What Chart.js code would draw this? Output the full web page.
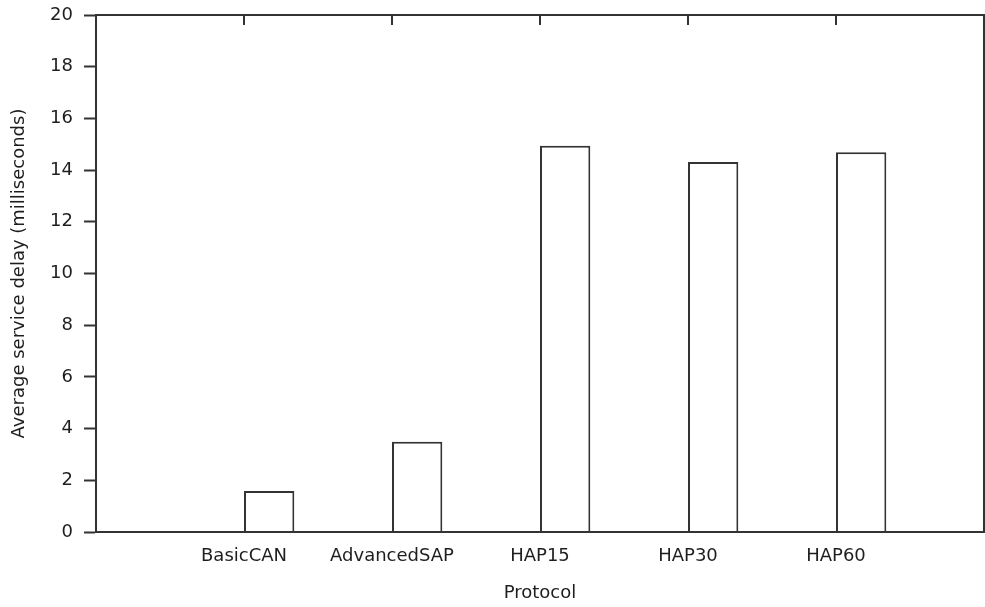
<!DOCTYPE html>
<html>
<head>
<meta charset="utf-8">
<script src="https://cdn.jsdelivr.net/npm/chart.js@4/dist/chart.umd.min.js"></script>
<style>
  html, body { margin: 0; padding: 0; background: #ffffff; }
  #wrap { width: 985px; height: 607px; }
</style>
</head>
<body>
<div id="wrap"><canvas id="chart" width="985" height="607"></canvas></div>
<script>
// Protocols on the x axis and their average service delay (ms)
const protocols = ['BasicCAN', 'AdvancedSAP', 'HAP15', 'HAP30', 'HAP60'];
const avgDelayMs = [1.59, 3.49, 14.94, 14.31, 14.69];

// Axis ranges / tick steps
const xRange = [-1, 5];
const yRange = [0, 20];
const yStep = 2;

const INK = '#1e1e1e';
const LINE = '#333333';
const FONT = { family: '"DejaVu Sans", Verdana, sans-serif', size: 18 };

// Box width as a fraction of the category spacing; boxes start at their tick
const BOX_FRACTION = 0.34;

// Frame around the plot plus inward tick marks along the top edge
const framePlugin = {
  id: 'frame',
  afterDatasetsDraw(chart) {
    const { ctx, chartArea: a, scales: { x } } = chart;
    ctx.save();
    ctx.strokeStyle = LINE;
    ctx.lineWidth = 2;
    ctx.strokeRect(a.left, a.top, a.right - a.left, a.bottom - a.top);
    x.ticks.forEach(t => {
      if (protocols[t.value] === undefined) return;
      const px = Math.round(x.getPixelForValue(t.value));
      ctx.beginPath();
      ctx.moveTo(px, a.top);
      ctx.lineTo(px, a.top + 10);
      ctx.stroke();
    });
    ctx.restore();
  }
};

new Chart(document.getElementById('chart'), {
  type: 'bar',
  data: {
    datasets: [{
      label: 'Average service delay',
      data: avgDelayMs.map((v, i) => ({ x: i + BOX_FRACTION / 2, y: v })),
      backgroundColor: '#ffffff',
      borderColor: LINE,
      borderWidth: 2,
      barPercentage: BOX_FRACTION,
      categoryPercentage: 1
    }]
  },
  options: {
    responsive: false,
    animation: false,
    devicePixelRatio: 1,
    layout: { padding: { top: 15, right: 1, left: 0, bottom: 0 } },
    plugins: { legend: { display: false }, tooltip: { enabled: false } },
    scales: {
      x: {
        type: 'linear',
        min: xRange[0],
        max: xRange[1],
        offset: false,
        grid: { display: true, drawOnChartArea: false, drawTicks: false, offset: false },
        border: { display: true, color: LINE, width: 2 },
        ticks: {
          stepSize: 1,
          autoSkip: false,
          maxRotation: 0,
          padding: 14,
          color: INK,
          font: FONT,
          callback: v => protocols[v] ?? ''
        },
        title: {
          display: true,
          text: 'Protocol',
          color: INK,
          font: FONT,
          padding: { top: 4, bottom: 3 }
        },
        afterFit: s => {
          s.height = 75;
          s.paddingLeft = 0;
          s.paddingRight = 0;
        }
      },
      y: {
        min: yRange[0],
        max: yRange[1],
        grid: { drawOnChartArea: false, drawTicks: true, tickLength: 12, tickColor: LINE, tickWidth: 2 },
        border: { display: true, color: LINE, width: 2 },
        ticks: {
          stepSize: yStep,
          padding: 11,
          color: INK,
          font: FONT
        },
        title: {
          display: true,
          text: 'Average service delay (milliseconds)',
          color: INK,
          font: FONT,
          padding: { top: 9, bottom: 4 }
        },
        afterFit: s => {
          s.width = 96;
          s.paddingTop = 0;
          s.paddingBottom = 0;
        }
      }
    }
  },
  plugins: [framePlugin]
});
</script>
</body>
</html>
